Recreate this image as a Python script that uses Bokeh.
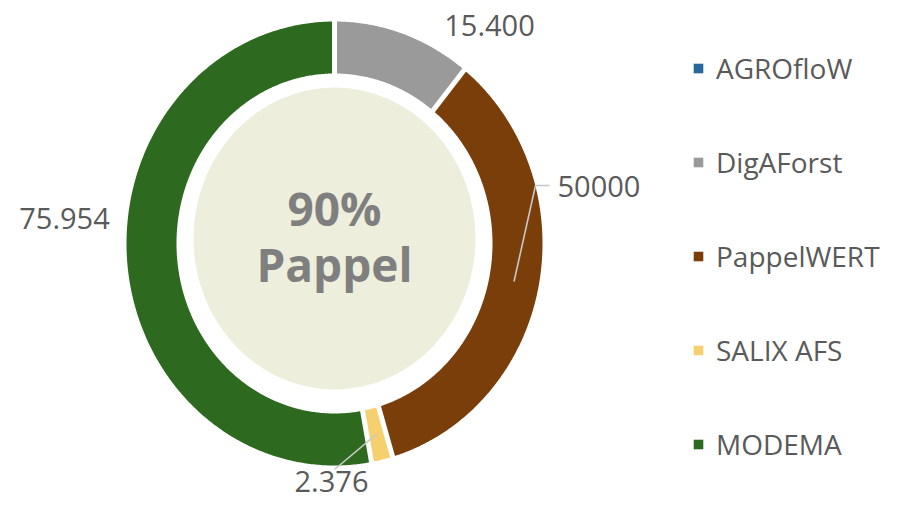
import numpy as np
from bokeh.plotting import figure
from bokeh.models import Range1d, ColumnDataSource, Legend, LegendItem
from bokeh.core.properties import value
from bokeh.embed import file_html
from bokeh.resources import INLINE

# ---------------- data ----------------
names = ["AGROfloW", "DigAForst", "PappelWERT", "SALIX AFS", "MODEMA"]
values = [0, 15400, 50000, 2376, 75954]
value_labels = ["", "15.400", "50000", "2.376", "75.954"]
colors = ["#27679A", "#9A9A9A", "#7A3E0A", "#F6CF6E", "#2D6A1F"]
center_lines = ["90%", "Pappel"]

# ---------------- layout (picture pixel coordinates) ----------------
W, H = 883, 503
cx, cy = 334, 243            # ring centre
rxo, ryo = 208, 222          # outer radii
rxi, ryi = 158, 170          # inner radii
bcx, bcy, brx, bry = 334, 238, 141, 151   # inner disc
label_pos = {1: (489, 25, "center"), 2: (557, 186, "left"),
             3: (331, 481, "center"), 4: (64, 218, "center")}
leader_elbows = {2: [(535, 185), (549, 185)], 3: [(334, 469)]}
TEXT = "#5A5A5A"
FONT = "Open Sans"

p = figure(width=W, height=H, x_range=Range1d(0, W), y_range=Range1d(H, 0),
           output_backend="svg", toolbar_location=None, min_border=0,
           x_axis_location=None, y_axis_location=None)
p.grid.visible = False
p.outline_line_color = None

total = float(sum(values))
fr = np.array(values) / total * 360.0
ends = np.cumsum(fr)
starts = ends - fr


def ell(a_deg, rx, ry):
    t = np.radians(a_deg)
    return cx + rx * np.sin(t), cy - ry * np.cos(t)


xs, ys = [], []
for a0, a1, v in zip(starts, ends, values):
    if v <= 0:
        xs.append([]); ys.append([])
        continue
    a = np.linspace(a0, a1, max(3, int((a1 - a0) * 2)))
    ox, oy = ell(a, rxo, ryo)
    ix, iy = ell(a[::-1], rxi, ryi)
    xs.append(list(np.concatenate([ox, ix])))
    ys.append(list(np.concatenate([oy, iy])))

src = ColumnDataSource(dict(xs=xs, ys=ys, color=colors, name=names))
ring = p.patches("xs", "ys", fill_color="color", line_color=None, source=src)

# white separators between slices
bounds = sorted(set(np.round([s for s, v in zip(starts, values) if v > 0], 6)))
sx0, sy0 = ell(np.array(bounds), rxi - 4, ryi - 4)
sx1, sy1 = ell(np.array(bounds), rxo + 4, ryo + 4)
p.segment(sx0, sy0, sx1, sy1, line_color="white", line_width=5)

# inner disc
p.ellipse(x=[bcx], y=[bcy], width=[2 * brx], height=[2 * bry],
          fill_color="#EEEEDC", line_color=None)

# leader lines (start at slice mid-angle, mid-radius)
for i, elbow in leader_elbows.items():
    mid = (starts[i] + ends[i]) / 2
    mx, my = ell(mid, (rxo + rxi) / 2, (ryo + ryi) / 2)
    lx = [mx] + [e[0] for e in elbow]
    ly = [my] + [e[1] for e in elbow]
    p.line(lx, ly, line_color="#C8C8C8", line_width=1.6)

# value labels
for i, (x, y, al) in label_pos.items():
    p.text(x=[x], y=[y], text=[value_labels[i]], text_align=al,
           text_baseline="alphabetic", text_font=value(FONT),
           text_font_size="29px", text_color=TEXT)

# centre text
p.text(x=[bcx, bcx], y=[207, 263], text=center_lines, text_align="center",
       text_baseline="alphabetic", text_font=value(FONT), text_font_style="bold",
       text_font_size="46px", text_color="#7F7F7F")

legend = Legend(items=[LegendItem(label=n, renderers=[ring], index=i) for i, n in enumerate(names)],
                location=(692, 40), orientation="vertical",
                glyph_width=12, glyph_height=12, label_standoff=12,
                label_height=34, spacing=56, padding=0, margin=0,
                border_line_color=None, background_fill_alpha=0,
                label_text_font=FONT, label_text_font_size="28px",
                label_text_color=TEXT)
p.add_layout(legend)

open("out.html", "w").write(file_html(p, INLINE))
